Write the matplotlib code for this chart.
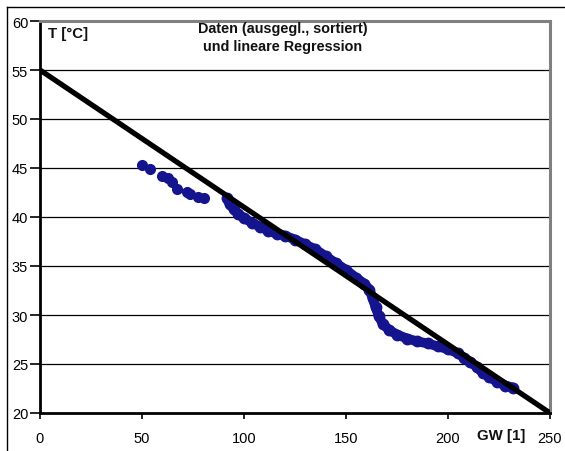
import matplotlib
matplotlib.use("Agg")
import matplotlib.pyplot as plt
from matplotlib.lines import Line2D

plt.rcParams['font.family'] = ['Liberation Sans', 'DejaVu Sans']

# cluster of early points
cluster_gw = [49.8, 53.9, 59.6, 62.9, 64.5, 67.0, 71.9, 73.5, 77.6, 80.4]
cluster_t = [45.3, 44.9, 44.2, 44.0, 43.6, 42.9, 42.6, 42.3, 42.0, 41.9]

# main sorted data
main_gw = [91.5, 93, 95, 97, 100, 104, 108, 112, 116, 120, 125, 130, 135, 140,
           145, 150, 155, 159, 161.5, 163, 164.5, 166, 168, 171, 175, 180, 185,
           190, 195, 200, 205, 208, 211, 214, 217, 220, 224, 228, 232]
main_t = [41.9, 41.3, 40.8, 40.3, 39.9, 39.4, 39.0, 38.6, 38.3, 38.1, 37.7, 37.2,
          36.7, 36.0, 35.3, 34.6, 33.8, 33.2, 32.6, 31.7, 30.8, 29.9, 29.1, 28.5,
          28.0, 27.6, 27.3, 27.1, 26.8, 26.5, 26.1, 25.6, 25.2, 24.7, 24.1, 23.7,
          23.2, 22.8, 22.6]

# linear regression line
reg_gw = [0, 250]
reg_t = [55, 20]

x_ticks = [0, 50, 100, 150, 200, 250]
x_tick_labels = ["0", "50", "100", "150", "200", "250"]
y_ticks = [20, 25, 30, 35, 40, 45, 50, 55, 60]

title_text = "Daten (ausgegl., sortiert)\nund lineare Regression"
y_label = "T [°C]"
x_label = "GW [1]"

navy = '#14148e'

fig = plt.figure(figsize=(5.65, 4.52), dpi=100)
ax = fig.add_axes([40/565, 1-414/452, 510/565, 392/452])

ax.set_xlim(0, 250)
ax.set_ylim(20, 60)

for yv in y_ticks[1:-1]:
    ax.axhline(yv, color='black', lw=0.9, zorder=1)

ax.plot(cluster_gw, cluster_t, linestyle='none', marker='o', ms=7,
        color=navy, zorder=3)
ax.plot(main_gw, main_t, linestyle='-', lw=7, marker='o', ms=7.5,
        color=navy, zorder=3, solid_capstyle='round', solid_joinstyle='round')
ax.plot(reg_gw, reg_t, color='black', lw=3.8, zorder=4, solid_capstyle='butt')

ax.set_xticks(x_ticks)
ax.set_xticklabels(x_tick_labels)
ax.set_yticks(y_ticks)
ax.tick_params(axis='both', labelsize=10.5, direction='out', width=1.2,
               color='black')
ax.tick_params(axis='y', length=7, pad=1.5)
ax.tick_params(axis='x', length=4, pad=9)

for s in ['left', 'bottom']:
    ax.spines[s].set_color('black')
    ax.spines[s].set_linewidth(2.0)
for s in ['top', 'right']:
    ax.spines[s].set_color('#808080')
    ax.spines[s].set_linewidth(2.2)

ax.text(283/565, 1-38/452, title_text, transform=fig.transFigure,
        ha='center', va='center', fontsize=10.4, fontweight='bold',
        linespacing=1.35, color='#111111')
ax.text(48/565, 1-34/452, y_label, transform=fig.transFigure,
        ha='left', va='center', fontsize=10.8, fontweight='bold', color='#111111')
ax.text(477/565, 1-436/452, x_label, transform=fig.transFigure,
        ha='left', va='center', fontsize=10.8, fontweight='bold', color='#111111')

# outer chart border (left and top visible)
fig.add_artist(Line2D([7/565, 7/565], [0, 1-8/452], transform=fig.transFigure,
                      color='black', lw=1.0))
fig.add_artist(Line2D([7/565, 1], [1-8/452, 1-8/452], transform=fig.transFigure,
                      color='black', lw=1.0))

fig.savefig('out.png', dpi=100)
